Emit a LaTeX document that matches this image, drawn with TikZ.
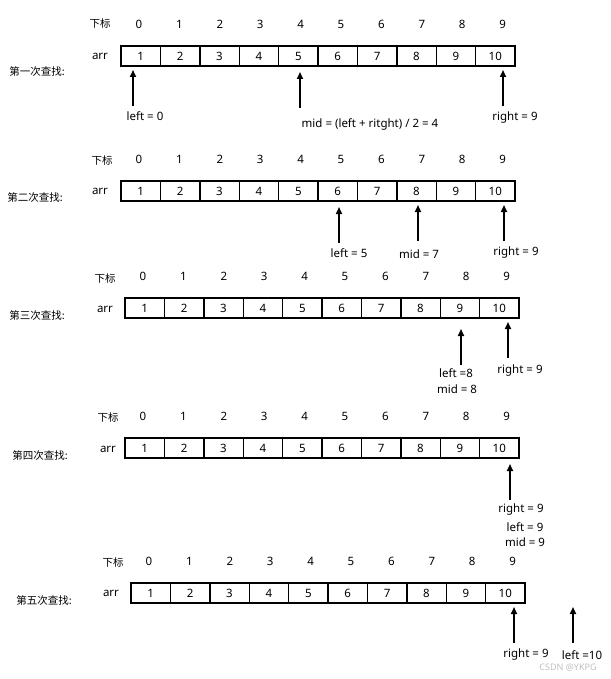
\documentclass[tikz,border=0pt]{standalone}
\usepackage{fontspec}
\setmainfont{Noto Sans}
\newfontfamily\cjk{Noto Sans CJK SC}
\usetikzlibrary{arrows.meta}

\tikzset{
  cell/.style={draw, line width=1.4pt, minimum width=39.4pt, minimum height=20pt, inner sep=0pt, font=\fontsize{11.5}{13}\selectfont},
  idx/.style={font=\fontsize{11.5}{13}\selectfont},
  txt/.style={font=\fontsize{11.5}{13}\selectfont, inner sep=1pt},
  cn/.style={font=\cjk\fontsize{10.5}{12}\selectfont},
  ptr/.style={-{Triangle[length=7pt,width=6pt]}, line width=1.6pt}
}

% one array row: name, left x, top y
\newcommand{\arrrow}[3]{%
  \foreach \i [evaluate=\i as \v using int(\i+1)] in {0,...,9} {
    \node[cell] (#1c\i) at ({#2+19.7+39.4*\i},{#3+10}) {\v};
    \node[idx] (#1i\i) at ({#2+18+40.4*\i},{#3-22}) {\i};
  }
}

\begin{document}
\begin{tikzpicture}[x=1pt,y=-1pt]
  \useasboundingbox (0,0) rectangle (610,679);
  % first search
  \arrrow{a}{121}{46}
  \node[cn] (ax) at (100,24) {下标};
  \node[txt] (aa) at (100,56) {arr};
  \node[cn] (at) at (37,72) {第一次查找:};
  \node[txt] (al) at (145,116) {left = 0};
  \node[txt] (am) at (370,124) {mid = (left + ritght) / 2 = 4};
  \node[txt] (ar) at (515,118) {right = 9};
  \coordinate (pal) at (133,106); \draw[ptr] (pal) -- ++(0,-36);
  \coordinate (pam) at (300,108); \draw[ptr] (pam) -- ++(0,-36);
  \coordinate (par) at (503,106); \draw[ptr] (par) -- ++(0,-36);
  % second search
  \arrrow{b}{121}{181}
  \node[cn] (bx) at (102,161) {下标};
  \node[txt] (ba) at (100,191) {arr};
  \node[cn] (bt) at (35,198) {第二次查找:};
  \node[txt] (bl) at (349,253) {left = 5};
  \node[txt] (bm) at (419,254) {mid = 7};
  \node[txt] (br) at (516,253) {right = 9};
  \coordinate (pbl) at (339,243); \draw[ptr] (pbl) -- ++(0,-36);
  \coordinate (pbm) at (418,241); \draw[ptr] (pbm) -- ++(0,-36);
  \coordinate (pbr) at (504,241); \draw[ptr] (pbr) -- ++(0,-36);
  % third search
  \arrrow{c}{125}{298}
  \node[cn] (cx) at (105,279) {下标};
  \node[txt] (ca) at (105,309) {arr};
  \node[cn] (ct) at (37,316) {第三次查找:};
  \node[txt] (cl) at (456,373) {left =8};
  \node[txt] (cm) at (457,389) {mid = 8};
  \node[txt] (cr) at (520,371) {right = 9};
  \coordinate (pcl) at (461,365); \draw[ptr] (pcl) -- ++(0,-36);
  \coordinate (pcr) at (508,358); \draw[ptr] (pcr) -- ++(0,-36);
  % fourth search
  \arrrow{d}{125}{438}
  \node[cn] (dx) at (108,418) {下标};
  \node[txt] (da) at (108,449) {arr};
  \node[cn] (dt) at (40,455) {第四次查找:};
  \node[txt] (dr) at (521,510) {right = 9};
  \node[txt] (dl) at (525,527) {left = 9};
  \node[txt] (dm) at (525,542) {mid = 9};
  \coordinate (pdr) at (510,500); \draw[ptr] (pdr) -- ++(0,-36);
  % fifth search
  \arrrow{e}{131}{583}
  \node[cn] (ex) at (113,562) {下标};
  \node[txt] (ea) at (111,593) {arr};
  \node[cn] (et) at (44,600) {第五次查找:};
  \node[txt] (er) at (526,655) {right = 9};
  \node[txt] (el) at (582,655) {left =10};
  \coordinate (per) at (514,643); \draw[ptr] (per) -- ++(0,-36);
  \coordinate (pel) at (573,643); \draw[ptr] (pel) -- ++(0,-36);
  \node[font=\fontsize{9}{10}\selectfont, text=black!25] (wm) at (568,668) {CSDN @YKPG};
\end{tikzpicture}
\end{document}
